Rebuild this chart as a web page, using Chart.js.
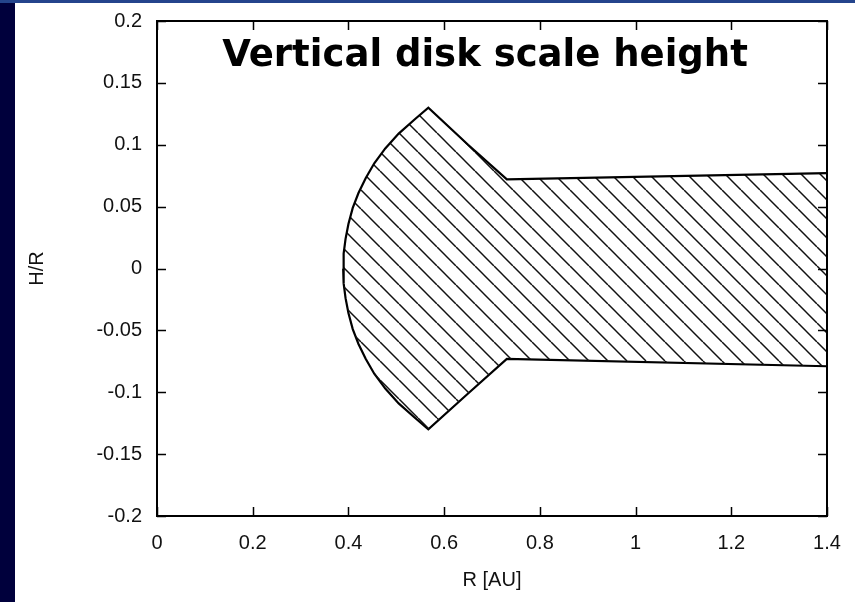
<!DOCTYPE html>
<html>
<head>
<meta charset="utf-8">
<script src="https://cdn.jsdelivr.net/npm/chart.js@4/dist/chart.umd.min.js"></script>
<style>
  html, body { margin: 0; padding: 0; background: #ffffff; }
  #wrap { position: relative; width: 855px; height: 602px; }
  canvas { display: block; }
</style>
</head>
<body>
<div id="wrap"><canvas id="c" width="855" height="602"></canvas></div>
<script>
// Upper edge of the disk, H/R against R [AU]
const upperR = [0.389, 0.390, 0.394, 0.400, 0.409, 0.421, 0.436, 0.454, 0.477, 0.505, 0.540, 0.567, 0.650, 0.731, 1.4];
const upperH = [0.000, 0.012, 0.024, 0.036, 0.049, 0.061, 0.073, 0.085, 0.097, 0.109, 0.121, 0.130, 0.100, 0.072, 0.077];
// Lower edge of the disk
const lowerR = [0.389, 0.390, 0.394, 0.400, 0.409, 0.421, 0.436, 0.454, 0.477, 0.505, 0.540, 0.567, 0.650, 0.731, 1.4];
const lowerH = [0.000, -0.012, -0.024, -0.036, -0.049, -0.061, -0.073, -0.085, -0.097, -0.109, -0.121, -0.130, -0.101, -0.073, -0.079];

const xTicks = [0, 0.2, 0.4, 0.6, 0.8, 1, 1.2, 1.4];
const yTicks = [-0.2, -0.15, -0.1, -0.05, 0, 0.05, 0.1, 0.15, 0.2];

const titleText = 'Vertical disk scale height';
const axisFont = { family: '"Liberation Sans", Arial, Helvetica, sans-serif', size: 20 };

// Diagonal hatching used to fill the disk
function hatch() {
  const s = 19;
  const t = document.createElement('canvas');
  t.width = s; t.height = s;
  const g = t.getContext('2d');
  g.strokeStyle = '#111';
  g.lineWidth = 1.5;
  for (let k = -1; k <= 1; k++) {
    g.beginPath();
    g.moveTo(k * s, 0);
    g.lineTo(k * s + s, s);
    g.stroke();
  }
  return g.createPattern(t, 'repeat');
}

const pts = (xs, ys) => xs.map((x, i) => ({ x, y: ys[i] }));
const fmt = v => String(Number(Number(v).toFixed(2)));

// Slide-style backdrop: dark strip on the left, blue band on top
const backdrop = {
  id: 'backdrop',
  beforeDraw(chart) {
    const ctx = chart.ctx;
    ctx.save();
    ctx.fillStyle = '#ffffff';
    ctx.fillRect(0, 0, chart.width, chart.height);
    ctx.fillStyle = '#00003c';
    ctx.fillRect(0, 0, 15, chart.height);
    ctx.fillStyle = '#24448c';
    ctx.fillRect(0, 0, chart.width, 3);
    ctx.restore();
  }
};

// Box frame with inward tick marks on all four sides, plus the heading
const frame = {
  id: 'frame',
  afterDatasetsDraw(chart) {
    const { ctx, chartArea: a, scales: { x, y } } = chart;
    ctx.save();
    ctx.strokeStyle = '#000';
    ctx.lineWidth = 1.5;
    const len = 9;
    ctx.beginPath();
    xTicks.forEach(v => {
      const px = Math.round(x.getPixelForValue(v)) + 0.5;
      ctx.moveTo(px, a.bottom); ctx.lineTo(px, a.bottom - len);
      ctx.moveTo(px, a.top); ctx.lineTo(px, a.top + len);
    });
    yTicks.forEach(v => {
      const py = Math.round(y.getPixelForValue(v)) + 0.5;
      ctx.moveTo(a.left, py); ctx.lineTo(a.left + len, py);
      ctx.moveTo(a.right, py); ctx.lineTo(a.right - len, py);
    });
    ctx.stroke();
    ctx.lineWidth = 2;
    ctx.strokeRect(a.left, a.top, a.right - a.left, a.bottom - a.top);

    ctx.fillStyle = '#000';
    ctx.font = 'bold 37px "DejaVu Sans", Verdana, sans-serif';
    ctx.textAlign = 'center';
    ctx.textBaseline = 'alphabetic';
    ctx.fillText(titleText, a.left + 328, a.top + 45);
    ctx.restore();
  }
};

// Outer tick marks are kept invisible; they only hold the labels off the frame
const hiddenTicks = len => ({
  display: true,
  drawOnChartArea: false,
  drawTicks: true,
  tickLength: len,
  tickColor: 'rgba(0,0,0,0)'
});

new Chart(document.getElementById('c'), {
  type: 'line',
  data: {
    datasets: [
      {
        data: pts(upperR, upperH),
        borderColor: '#000',
        borderWidth: 2.2,
        pointRadius: 0,
        tension: 0,
        fill: '+1',
        backgroundColor: hatch()
      },
      {
        data: pts(lowerR, lowerH),
        borderColor: '#000',
        borderWidth: 2.2,
        pointRadius: 0,
        tension: 0,
        fill: false
      }
    ]
  },
  options: {
    responsive: false,
    devicePixelRatio: 1,
    animation: false,
    layout: { padding: { top: 21, right: 28, left: 0, bottom: 0 } },
    plugins: { legend: { display: false }, tooltip: { enabled: false } },
    scales: {
      x: {
        type: 'linear',
        min: 0, max: 1.4,
        afterBuildTicks: s => { s.ticks = xTicks.map(v => ({ value: v })); },
        afterFit: s => { s.height = 86; },
        grid: hiddenTicks(15),
        border: { display: false },
        ticks: {
          padding: 0,
          maxRotation: 0,
          autoSkip: false,
          color: '#111',
          font: axisFont,
          callback: v => fmt(v)
        },
        title: {
          display: true,
          text: 'R [AU]',
          color: '#111',
          font: axisFont,
          padding: { top: 0, bottom: 10 }
        }
      },
      y: {
        type: 'linear',
        min: -0.2, max: 0.2,
        afterBuildTicks: s => { s.ticks = yTicks.map(v => ({ value: v })); },
        afterFit: s => { s.width = 157; },
        grid: hiddenTicks(15),
        border: { display: false },
        ticks: {
          padding: 0,
          autoSkip: false,
          color: '#111',
          font: axisFont,
          callback: v => fmt(v)
        },
        title: {
          display: true,
          text: 'H/R',
          color: '#111',
          font: axisFont,
          padding: { top: 25, bottom: 0 }
        }
      }
    }
  },
  plugins: [backdrop, frame]
});
</script>
</body>
</html>
